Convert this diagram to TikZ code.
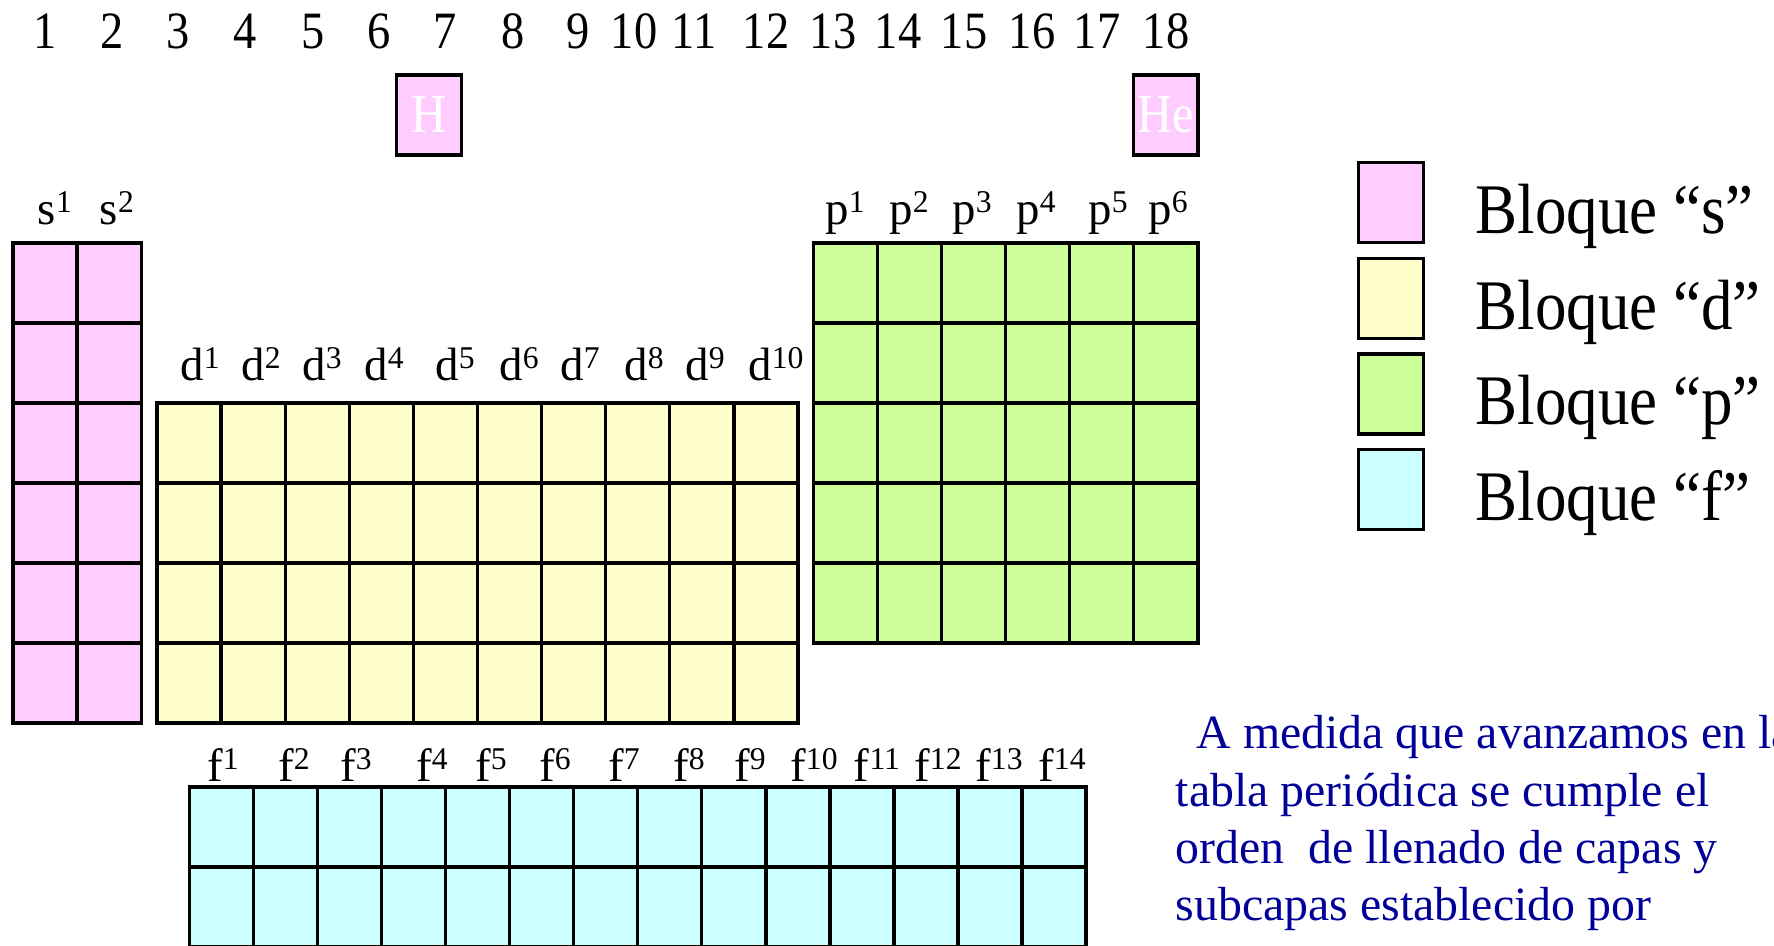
\documentclass[tikz,border=0pt]{standalone}
\usepackage{fontspec}
\setmainfont{Liberation Serif}
\usepackage{tikz}
\definecolor{color1}{RGB}{255, 204, 255}
\definecolor{color2}{RGB}{255, 255, 204}
\definecolor{color3}{RGB}{204, 255, 153}
\definecolor{color4}{RGB}{204, 255, 255}
\definecolor{color5}{RGB}{0, 0, 153}
\newcommand{\vstretch}[1]{\scalebox{1}[1.13]{#1}}
\newcommand{\orb}[2]{#1\raisebox{3.4pt}{\fontsize{9}{9}\selectfont #2}}
\tikzset{
    cell/.style={draw, line width=0.95pt},
    num/.style={anchor=base, inner sep=0pt, font=\fontsize{13.2}{15}\selectfont},
    lbl/.style={anchor=base, inner sep=0pt, font=\fontsize{13.3}{15}\selectfont},
    elem/.style={draw, line width=0.95pt, fill=color1, text=white, minimum width=0.645cm, minimum height=0.8cm, inner sep=0pt, font=\fontsize{13.8}{15}\selectfont},
    key/.style={draw, line width=0.95pt, minimum width=0.645cm, minimum height=0.8cm, inner sep=0pt},
    keytext/.style={anchor=base west, inner sep=0pt, font=\fontsize{17.9}{20}\selectfont},
    para/.style={anchor=base west, inner sep=0pt, text=color5, font=\fontsize{13.6}{16}\selectfont},
}

\begin{document}
\begin{tikzpicture}[x=0.01cm, y=-0.01cm]
    \useasboundingbox (0,0) rectangle (1774,945);
    \clip (0,0) rectangle (1774,945);
    % group numbers
    \foreach \n/\x in {1/45, 2/112, 3/178, 4/245, 5/313, 6/379, 7/445, 8/513, 9/578, 10/634, 11/694, 12/766, 13/833, 14/898, 15/964, 16/1032, 17/1097, 18/1166}
        \node[num] (g\n) at (\x, 48) {\vstretch{\n}};
    \node[elem] (H) at (429, 115) {\vstretch{H}};
    \node[elem] (He) at (1165.8, 115) {\vstretch{He}};
    % blocks
    \foreach \c in {0,1} \foreach \r in {0,...,5}
        \draw[cell, fill=color1] (13+\c*64.1, 243+\r*80) rectangle ++(64.1, 80);
    \foreach \c in {0,...,9} \foreach \r in {0,...,3}
        \draw[cell, fill=color2] (157+\c*64.1, 403+\r*80) rectangle ++(64.1, 80);
    \foreach \c in {0,...,5} \foreach \r in {0,...,4}
        \draw[cell, fill=color3] (813.3+\c*64.1, 243+\r*80) rectangle ++(64.1, 80);
    \foreach \c in {0,...,13} \foreach \r in {0,1}
        \draw[cell, fill=color4] (189.4+\c*64.05, 787+\r*80) rectangle ++(64.05, 80);
    % labels
    \node[lbl] (s1) at (55, 224) {\orb{s}{1}};
    \node[lbl] (s2) at (117, 224) {\orb{s}{2}};
    \foreach \i/\x in {1/200, 2/261, 3/322, 4/384, 5/455, 6/519, 7/580, 8/644, 9/705, 10/776}
        \node[lbl] (d\i) at (\x, 380) {\orb{d}{\i}};
    \foreach \i/\x in {1/845, 2/909, 3/972, 4/1036, 5/1108, 6/1168}
        \node[lbl] (p\i) at (\x, 224) {\orb{p}{\i}};
    \foreach \i/\x in {1/223, 2/294, 3/356, 4/432, 5/491, 6/555, 7/624, 8/689, 9/750, 10/814, 11/877, 12/938, 13/999, 14/1062}
        \node[lbl] (f\i) at (\x, 781) {\orb{f}{\i}};
    % legend
    \foreach \b/\col [count=\k from 0] in {s/color1, d/color2, p/color3, f/color4} {
        \node[key, fill=\col] (key\b) at (1391, 202.5+\k*95.7) {};
        \node[keytext] (txt\b) at (1475, 233.3+\k*95.7) {\vstretch{Bloque “\b”}};
    }
    \node[para] (par1) at (1196, 748) {A medida que avanzamos en la};
    \node[para] (par2) at (1175, 806) {tabla periódica se cumple el};
    \node[para] (par3) at (1175, 863) {orden~ de llenado de capas y};
    \node[para] (par4) at (1175, 920) {subcapas establecido por};
\end{tikzpicture}
\end{document}
